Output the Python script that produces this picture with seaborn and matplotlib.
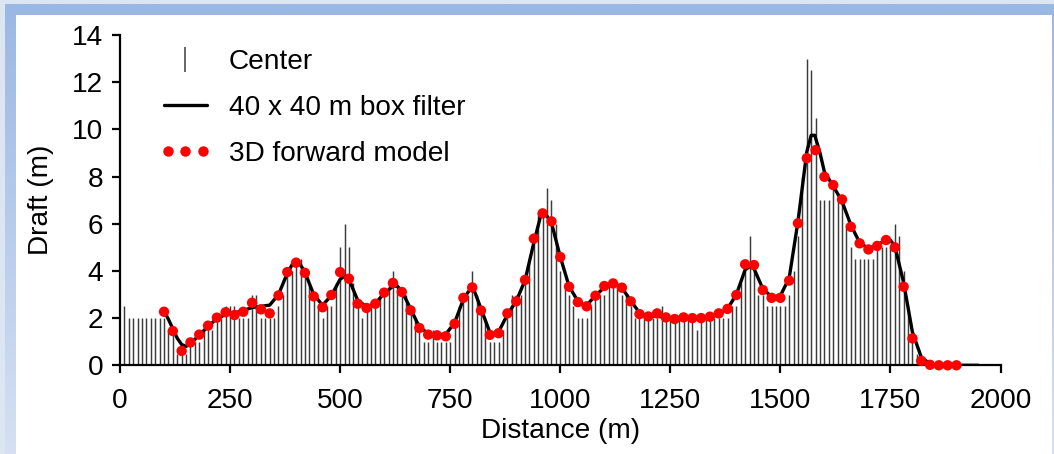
import numpy as np
import pandas as pd
import matplotlib
matplotlib.use("Agg")
import matplotlib.pyplot as plt
import seaborn as sns
from matplotlib.lines import Line2D
from matplotlib.legend_handler import HandlerLine2D
from matplotlib.patches import Rectangle
from matplotlib.colors import LinearSegmentedColormap

# ---- profile data -------------------------------------------------------
# centre-beam draft, one sample every 10 m
center_distance = np.arange(10, 1811, 10)
center_draft = [
    2.5, 2.0, 2.0, 2.0, 2.0, 2.0, 2.0, 2.0, 2.0, 2.0,
    1.5, 1.5, 0.5, 0.5, 0.5, 1.0, 1.0, 1.0, 1.5, 1.5,
    1.5, 2.0, 2.0, 2.5, 2.5, 2.5, 2.0, 2.0, 2.0, 3.0,
    3.0, 2.0, 2.0, 2.0, 2.0, 2.5, 3.0, 4.0, 4.0, 4.5,
    4.5, 4.0, 3.5, 3.0, 2.5, 2.0, 2.5, 2.5, 3.5, 5.0,
    6.0, 5.0, 3.5, 2.5, 2.0, 2.5, 2.5, 2.5, 3.0, 3.0,
    3.5, 4.0, 3.5, 3.0, 3.0, 2.5, 2.0, 1.5, 1.0, 1.0,
    1.5, 1.0, 1.0, 1.0, 1.0, 2.0, 2.5, 3.0, 3.0, 4.0,
    3.0, 2.5, 2.0, 1.0, 1.0, 1.0, 1.5, 2.0, 3.0, 3.0,
    3.0, 3.5, 4.5, 5.5, 6.5, 6.5, 7.5, 7.0, 6.0, 4.0,
    3.5, 3.0, 2.5, 2.0, 2.0, 2.0, 2.5, 3.0, 3.0, 3.0,
    3.5, 3.5, 3.5, 3.0, 3.0, 2.5, 2.0, 2.0, 2.0, 2.0,
    2.0, 2.0, 2.5, 2.0, 2.0, 2.0, 2.0, 2.0, 2.0, 2.0,
    1.5, 2.0, 2.0, 2.0, 2.0, 2.0, 2.0, 2.0, 2.5, 2.5,
    3.5, 4.0, 5.5, 4.0, 3.0, 3.0, 2.5, 2.5, 2.5, 2.5,
    2.5, 3.0, 4.0, 5.5, 8.0, 13.0, 12.5, 10.5, 7.0, 7.0,
    7.0, 7.5, 7.0, 7.0, 6.0, 5.0, 4.5, 4.5, 4.5, 4.5,
    4.5, 5.0, 5.0, 5.0, 5.0, 6.0, 5.5, 4.0, 2.5, 1.0,
    0.5,
]

# 40 x 40 m box-filtered draft
filter_distance = [
    100, 110, 120, 130, 140, 150, 160, 180, 200, 220, 240, 260, 280, 300,
    320, 340, 360, 380, 395, 410, 420, 440, 460, 480, 500, 510, 520, 540,
    560, 580, 600, 620, 630, 640, 660, 680, 700, 720, 740, 760, 780, 795,
    805, 820, 840, 850, 860, 880, 900, 920, 940, 955, 965, 980, 1000, 1020,
    1040, 1055, 1060, 1080, 1100, 1115, 1130, 1140, 1160, 1180, 1200, 1220,
    1240, 1260, 1280, 1300, 1320, 1340, 1360, 1380, 1400, 1420, 1430, 1440,
    1460, 1480, 1500, 1520, 1540, 1560, 1570, 1578, 1590, 1600, 1620, 1640,
    1660, 1680, 1700, 1720, 1740, 1750, 1760, 1780, 1800, 1820, 1840, 1860,
    1900, 1950,
]
filter_draft = [
    2.30, 1.95, 1.55, 1.15, 0.88, 0.80, 0.92, 1.28, 1.65, 1.98, 2.15, 2.22, 2.32, 2.45,
    2.50, 2.55, 3.00, 3.90, 4.40, 4.25, 3.95, 3.00, 2.55, 2.95, 3.65, 3.78, 3.65, 2.75,
    2.48, 2.62, 3.05, 3.35, 3.35, 3.15, 2.40, 1.62, 1.35, 1.30, 1.32, 1.80, 2.80, 3.22,
    3.15, 2.40, 1.40, 1.30, 1.42, 2.15, 2.72, 3.60, 5.20, 6.30, 6.45, 6.05, 4.60, 3.35,
    2.72, 2.52, 2.55, 2.95, 3.30, 3.42, 3.40, 3.28, 2.75, 2.22, 2.08, 2.08,
    2.02, 1.98, 2.00, 1.98, 1.98, 2.04, 2.18, 2.40, 3.00, 4.05, 4.18, 4.10,
    3.25, 2.90, 2.95, 3.70, 6.10, 9.05, 9.75, 9.75, 9.00, 8.20, 7.60, 6.95,
    5.95, 5.20, 4.95, 5.10, 5.32, 5.30, 5.05, 3.50, 1.40, 0.35, 0.05, 0.00,
    0.00, 0.00,
]

# 3D forward model, one value every 20 m
model_distance = np.arange(100, 1901, 20)
model_draft = [
    2.27, 1.45, 0.61, 0.97, 1.30, 1.68, 2.02, 2.25, 2.13, 2.27,
    2.65, 2.37, 2.20, 2.96, 3.95, 4.35, 3.92, 2.92, 2.46, 2.98,
    3.95, 3.67, 2.61, 2.43, 2.61, 3.08, 3.49, 3.11, 2.33, 1.58,
    1.30, 1.27, 1.23, 1.76, 2.86, 3.30, 2.32, 1.29, 1.36, 2.20,
    2.71, 3.62, 5.37, 6.44, 6.10, 4.59, 3.33, 2.68, 2.50, 2.95,
    3.36, 3.47, 3.29, 2.71, 2.17, 2.07, 2.20, 2.03, 1.96, 2.03,
    2.00, 2.00, 2.06, 2.20, 2.39, 2.98, 4.28, 4.25, 3.19, 2.86,
    2.86, 3.59, 6.02, 8.78, 9.12, 7.99, 7.64, 7.03, 5.87, 5.17,
    4.91, 5.06, 5.31, 5.00, 3.33, 1.14, 0.19, 0.02, 0.00, 0.00,
    0.00,
]

x_ticks = [0, 250, 500, 750, 1000, 1250, 1500, 1750, 2000]
y_ticks = [0, 2, 4, 6, 8, 10, 12, 14]
labels = ["Center", "40 x 40 m box filter", "3D forward model"]

center_df = pd.DataFrame({"distance": center_distance, "draft": center_draft})
filter_df = pd.DataFrame({"distance": filter_distance, "draft": filter_draft})
model_df = pd.DataFrame({"distance": model_distance, "draft": model_draft})

# ---- styling --------------------------------------------------------------
sns.set_theme(style="ticks")
plt.rcParams["font.family"] = ["Liberation Sans", "DejaVu Sans"]
plt.rcParams.update({
    "text.color": "black",
    "axes.labelcolor": "black",
    "xtick.color": "black",
    "ytick.color": "black",
    "xtick.labelcolor": "black",
    "ytick.labelcolor": "black",
})
FS = 20.2
BAR_COLOR = "#3c3c3c"

W, H = 1054, 454
fig = plt.figure(figsize=(W / 100, H / 100), dpi=100, facecolor="#dce6f2")

# slide-style frame behind the chart
bg = fig.add_axes([0, 0, 1, 1], zorder=-10)
bg.set_xlim(0, W)
bg.set_ylim(H, 0)
bg.axis("off")
frame_cmap = LinearSegmentedColormap.from_list("frame", ["#9bb7e4", "#d6e0f2"])
bg.imshow(np.linspace(0, 1, 256).reshape(-1, 1), cmap=frame_cmap,
          extent=(5, W, H, 4), aspect="auto", interpolation="bilinear")
bg.add_patch(Rectangle((16, 15), 1052 - 16, H - 15, facecolor="white",
                       edgecolor="none"))

ax = fig.add_axes([120 / W, 1 - 365.3 / H, (1000.5 - 120) / W, (365.3 - 35) / H])
ax.set_facecolor("none")

# centre-beam samples as thin vertical sticks
ax.vlines(center_df["distance"], 0, center_df["draft"], color=BAR_COLOR,
          linewidth=1.05, zorder=1)
sns.lineplot(data=filter_df, x="distance", y="draft", ax=ax, color="black",
             linewidth=2.4, zorder=2, legend=False)
sns.scatterplot(data=model_df, x="distance", y="draft", ax=ax, color="red",
                s=56, edgecolor="none", zorder=3, clip_on=False, legend=False)

ax.set_xlim(0, 2000)
ax.set_ylim(0, 14)
ax.set_xticks(x_ticks)
ax.set_yticks(y_ticks)
ax.set_xticklabels([str(v) for v in x_ticks], fontsize=FS)
ax.set_yticklabels([str(v) for v in y_ticks], fontsize=FS)
ax.tick_params(axis="both", direction="out", length=6, width=1.6, color="black")
ax.tick_params(axis="x", pad=10)
ax.tick_params(axis="y", pad=6)
sns.despine(ax=ax)
for side in ("left", "bottom"):
    ax.spines[side].set_linewidth(1.6)
    ax.spines[side].set_color("black")

ax.set_xlabel("Distance (m)", fontsize=FS, labelpad=3)
ax.set_ylabel("Draft (m)", fontsize=FS, labelpad=13)

handles = [
    Line2D([], [], color=BAR_COLOR, marker="|", linestyle="None",
           markersize=18, markeredgewidth=1.1),
    Line2D([], [], color="black", linewidth=2.4),
    Line2D([], [], color="red", marker="o", linestyle="None", markersize=7.5,
           markeredgewidth=0),
]
ax.legend(handles, labels, loc="upper left",
          bbox_to_anchor=(164 / W, 1 - 49 / H), bbox_transform=fig.transFigure,
          frameon=False, fontsize=FS, handlelength=1.53, handletextpad=0.77,
          labelspacing=0.71, borderpad=0, borderaxespad=0,
          handler_map={handles[0]: HandlerLine2D(numpoints=1),
                       handles[2]: HandlerLine2D(numpoints=3, marker_pad=0.15)})

fig.savefig("out.png", dpi=100, facecolor=fig.get_facecolor())
